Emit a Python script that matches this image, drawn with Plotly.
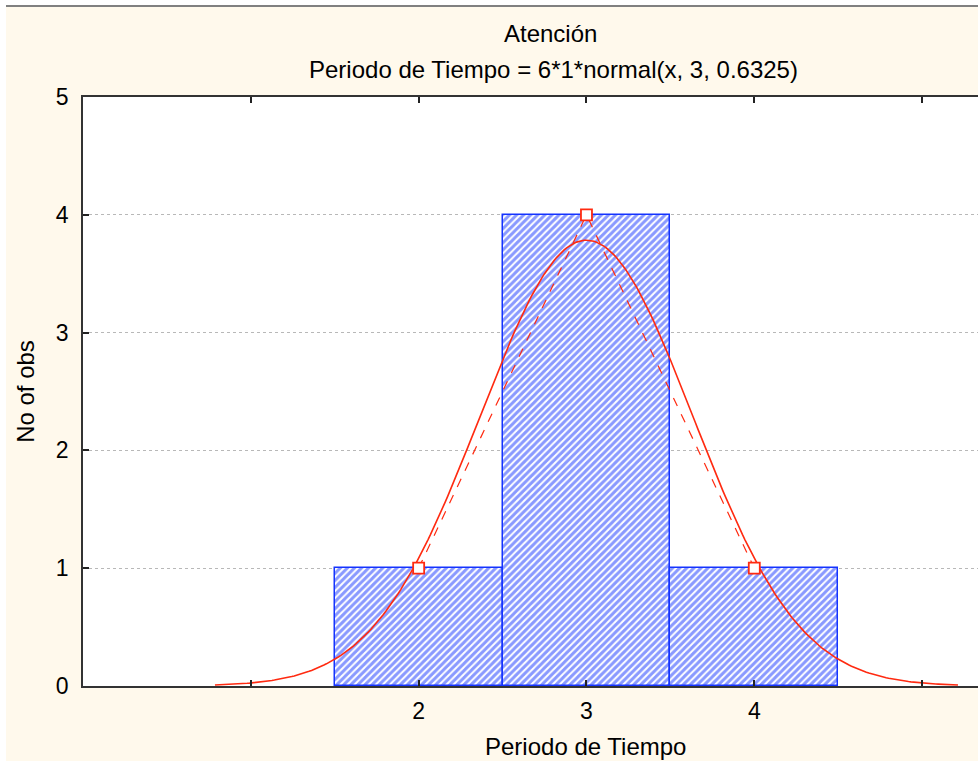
import numpy as np
import plotly.graph_objects as go

# Histogram of "Periodo de Tiempo" (Atención) with fitted normal curve
bin_centers = [2, 3, 4]
counts = [1, 4, 1]
bin_width = 1
n_obs = 6
fit_mean = 3
fit_sd = 0.6325

x_tickvals = [1, 2, 3, 4, 5]
x_ticktext = ["", "2", "3", "4", ""]
y_tickvals = [0, 1, 2, 3, 4, 5]

BLUE = "#1433ff"
RED = "#ff2a10"
CREAM = "#fff9ec"
FONT = "Liberation Sans, Arial, sans-serif"
TXT = 24
TICK = 23

# expected frequencies: n * width * normal pdf, drawn over mean ± 3.5 sd
xs = np.linspace(fit_mean - 3.5 * fit_sd, fit_mean + 3.5 * fit_sd, 301)
ys = n_obs * bin_width * np.exp(-0.5 * ((xs - fit_mean) / fit_sd) ** 2) / (fit_sd * np.sqrt(2 * np.pi))

fig = go.Figure()
fig.add_trace(go.Bar(
    x=bin_centers, y=counts, width=bin_width,
    marker=dict(
        color="white",
        line=dict(color=BLUE, width=1.5),
        pattern=dict(shape="/", fgcolor=BLUE, bgcolor="white", size=5, solidity=0.6),
    ),
    showlegend=False, hoverinfo="x+y",
))
fig.add_trace(go.Scatter(
    x=xs, y=ys, mode="lines",
    line=dict(color=RED, width=1.6), showlegend=False,
))
fig.add_trace(go.Scatter(
    x=bin_centers, y=counts, mode="lines+markers",
    line=dict(color=RED, width=1.2, dash="dash"),
    marker=dict(symbol="square", size=11, color="white", line=dict(color=RED, width=1.8)),
    showlegend=False,
))

L, T, B, W, H = 83, 97, 75, 978, 761
pw, ph = W - L, H - T - B

def px(v):
    return (v - L) / pw

def py(v):
    return (H - B - v) / ph

fig.update_layout(
    width=W, height=H,
    margin=dict(l=L, r=0, t=T, b=B),
    paper_bgcolor=CREAM, plot_bgcolor="white",
    font=dict(family=FONT, size=TXT, color="#000000"),
    bargap=0,
    xaxis=dict(
        range=[0, 5.333], tickvals=x_tickvals, ticktext=x_ticktext,
        ticks="inside", ticklen=6, tickwidth=2, tickcolor="#222",
        showline=True, linecolor="#333", linewidth=1.5, mirror="ticks",
        showgrid=False, zeroline=False, ticklabelstandoff=4,
        tickfont=dict(size=TICK),
    ),
    yaxis=dict(
        range=[0, 5], tickvals=y_tickvals,
        ticks="inside", ticklen=6, tickwidth=2, tickcolor="#222",
        showline=True, linecolor="#333", linewidth=1.5, mirror=False,
        showgrid=True, gridcolor="#b8b8b8", griddash="dot", gridwidth=1,
        zeroline=False, ticklabelstandoff=8,
        title=dict(text="No of obs", standoff=14, font=dict(size=TXT)),
        tickfont=dict(size=TICK),
    ),
    annotations=[
        dict(text="Atención", x=px(550), y=py(34), xref="paper", yref="paper",
             xanchor="center", yanchor="middle", showarrow=False, font=dict(size=TXT)),
        dict(text="Periodo de Tiempo = 6*1*normal(x, 3, 0.6325)", x=px(553), y=py(70),
             xref="paper", yref="paper", xanchor="center", yanchor="middle",
             showarrow=False, font=dict(size=TXT)),
        dict(text="Periodo de Tiempo", x=px(585), y=py(746), xref="paper", yref="paper",
             xanchor="center", yanchor="middle", showarrow=False, font=dict(size=TXT)),
    ],
    shapes=[
        dict(type="rect", xref="paper", yref="paper", x0=px(0), x1=px(6), y0=py(H), y1=py(0),
             fillcolor="white", line=dict(width=0), layer="below"),
        dict(type="rect", xref="paper", yref="paper", x0=px(0), x1=px(W), y0=py(7), y1=py(0),
             fillcolor="white", line=dict(width=0), layer="below"),
        dict(type="line", xref="paper", yref="paper", x0=px(6), x1=px(W), y0=py(6), y1=py(6),
             line=dict(color="#808080", width=2)),
    ],
)

fig.write_html("out.html")
